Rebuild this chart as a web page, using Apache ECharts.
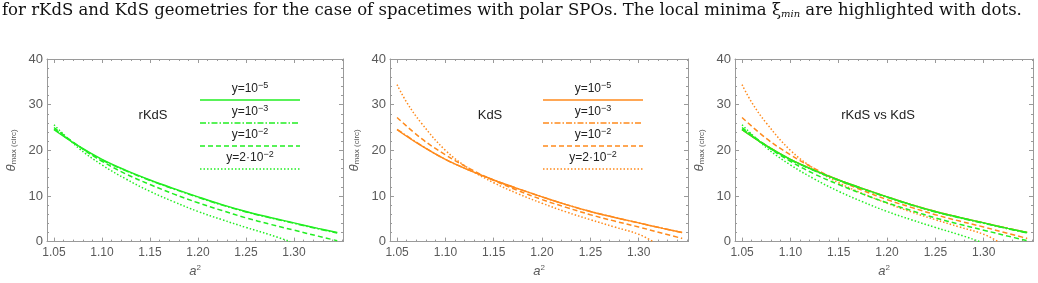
<!DOCTYPE html>
<html>
<head>
<meta charset="utf-8">
<script src="https://cdn.jsdelivr.net/npm/echarts@6/dist/echarts.min.js"></script>
<style>
  html, body { margin: 0; padding: 0; background: #fff; }
  #chart { width: 1038px; height: 283px; }
</style>
</head>
<body>
<div id="chart"></div>
<script>
// a^2 sample points and theta_max values
const aFull = [1.05, 1.075, 1.10, 1.125, 1.15, 1.175, 1.20, 1.225, 1.25, 1.275, 1.30, 1.325, 1.345];

const rkdsSolid   = [24.5, 21.0, 18.0, 15.6, 13.5, 11.6, 9.8, 8.1, 6.6, 5.3, 4.1, 2.9, 2.0];
const rkdsDashDot = [24.7, 21.0, 17.9, 15.5, 13.4, 11.5, 9.7, 8.0, 6.5, 5.2, 4.0, 2.8, 1.9];
const rkdsDashed  = [25.0, 21.0, 17.6, 14.8, 12.5, 10.4, 8.5, 6.8, 5.2, 3.8, 2.5, 1.2, 0.2];
const aRkdsDotted = [1.05, 1.075, 1.10, 1.125, 1.15, 1.175, 1.20, 1.225, 1.25, 1.275, 1.296];
const rkdsDotted  = [25.6, 20.6, 16.8, 13.7, 11.0, 8.7, 6.6, 4.8, 3.1, 1.5, 0.0];

const kdsSolid    = [24.5, 21.0, 18.0, 15.6, 13.5, 11.6, 9.8, 8.1, 6.6, 5.3, 4.1, 2.9, 2.0];
const kdsDashDot  = [24.6, 21.1, 18.0, 15.6, 13.5, 11.6, 9.8, 8.1, 6.6, 5.3, 4.1, 2.9, 2.0];
const kdsDashed   = [27.2, 22.6, 19.0, 16.0, 13.4, 11.2, 9.2, 7.5, 5.9, 4.5, 3.2, 1.8, 0.7];
const aKdsDotted  = [1.05, 1.06, 1.075, 1.10, 1.125, 1.15, 1.175, 1.20, 1.225, 1.25, 1.275, 1.30, 1.315];
const kdsDotted   = [34.4, 30.5, 26.0, 20.0, 15.9, 12.9, 10.5, 8.4, 6.5, 4.8, 3.2, 1.6, 0.0];

const xMajor = [1.05, 1.10, 1.15, 1.20, 1.25, 1.30];
const legendLabels = ['−5', '−3', '−2', '−2'];
const legendPrefix = ['y=10', 'y=10', 'y=10', 'y=2·10'];
const panelTitles = ['rKdS', 'KdS', 'rKdS vs KdS'];

const GREEN = '#22ee22';
const ORANGE = '#ff8a1c';
const AXIS = '#9a9a9a';
const LABEL = '#5a5a5a';
const DASHES = ['solid', [6, 2, 1.5, 2], [5, 3], [1.5, 2]];

const xMinor = [];
for (let i = 105; i <= 135; i++) xMinor.push(i / 100);

const grids = [
  { left: 47, right: 695, top: 59, bottom: 41 },
  { left: 390, right: 350, top: 59, bottom: 41 },
  { left: 735, right: 5, top: 59, bottom: 41 }
];

const xAxes = [];
const yAxes = [];
grids.forEach((g, gi) => {
  const base = { type: 'value', gridIndex: gi, min: 1.0427, max: 1.351, splitLine: { show: false } };
  // bottom, with labels
  xAxes.push(Object.assign({}, base, {
    position: 'bottom',
    axisLine: { lineStyle: { color: AXIS, width: 1 } },
    axisTick: { inside: true, length: 4, customValues: xMajor, lineStyle: { color: AXIS } },
    axisLabel: { customValues: xMajor, color: LABEL, fontSize: 12, margin: 5,
      fontFamily: 'Liberation Sans', formatter: v => v.toFixed(2) },
    name: '{a|a}{s|2}', nameLocation: 'middle', nameGap: 19,
    nameTextStyle: { rich: {
      a: { fontStyle: 'italic', fontSize: 13, color: LABEL, fontFamily: 'Liberation Sans' },
      s: { fontSize: 8, color: LABEL, padding: [0, 0, 8, 0], fontFamily: 'Liberation Sans' }
    } }
  }));
  // bottom minor ticks
  xAxes.push(Object.assign({}, base, {
    position: 'bottom', axisLine: { show: false },
    axisTick: { inside: true, length: 2, customValues: xMinor, lineStyle: { color: AXIS } },
    axisLabel: { show: false }
  }));
  // top frame
  xAxes.push(Object.assign({}, base, {
    position: 'top',
    axisLine: { lineStyle: { color: AXIS, width: 1 } },
    axisTick: { inside: true, length: 4, customValues: xMajor, lineStyle: { color: AXIS } },
    axisLabel: { show: false }
  }));
  xAxes.push(Object.assign({}, base, {
    position: 'top', axisLine: { show: false },
    axisTick: { inside: true, length: 2, customValues: xMinor, lineStyle: { color: AXIS } },
    axisLabel: { show: false }
  }));

  const ybase = { type: 'value', gridIndex: gi, min: 0, max: 40, interval: 10, splitLine: { show: false },
    minorTick: { show: true, splitNumber: 5, length: 2, lineStyle: { color: AXIS } },
    minorSplitLine: { show: false } };
  yAxes.push(Object.assign({}, ybase, {
    position: 'left',
    axisLine: { show: true, lineStyle: { color: AXIS, width: 1 } },
    axisTick: { show: true, inside: true, length: 4, lineStyle: { color: AXIS } },
    axisLabel: { color: LABEL, fontSize: 13, margin: 4, fontFamily: 'Liberation Sans' },
    name: '{t|θ}{s|max (circ)}', nameLocation: 'middle', nameGap: 29,
    nameTextStyle: { rich: {
      t: { fontStyle: 'italic', fontSize: 13, color: LABEL, fontFamily: 'Liberation Sans' },
      s: { fontSize: 8, color: LABEL, padding: [5, 0, 0, 0], fontFamily: 'Liberation Sans' }
    } }
  }));
  yAxes.push(Object.assign({}, ybase, {
    position: 'right',
    axisLine: { show: true, lineStyle: { color: AXIS, width: 1 } },
    axisTick: { show: true, inside: true, length: 4, lineStyle: { color: AXIS } },
    minorTick: { show: true, splitNumber: 5, length: 2, lineStyle: { color: AXIS } },
    axisLabel: { show: false }
  }));
});

function line(xs, ys, color, dash, gi) {
  return {
    type: 'line',
    xAxisIndex: gi * 4,
    yAxisIndex: gi * 2,
    data: xs.map((x, i) => [x, ys[i]]),
    showSymbol: false,
    smooth: 0.4,
    silent: true,
    lineStyle: { color: color, width: 1.5, type: dash }
  };
}

const rkds = [[aFull, rkdsSolid], [aFull, rkdsDashDot], [aFull, rkdsDashed], [aRkdsDotted, rkdsDotted]];
const kds = [[aFull, kdsSolid], [aFull, kdsDashDot], [aFull, kdsDashed], [aKdsDotted, kdsDotted]];

const series = [];
rkds.forEach((c, i) => series.push(line(c[0], c[1], GREEN, DASHES[i], 0)));
kds.forEach((c, i) => series.push(line(c[0], c[1], ORANGE, DASHES[i], 1)));
kds.forEach((c, i) => series.push(line(c[0], c[1], ORANGE, DASHES[i], 2)));
rkds.forEach((c, i) => series.push(line(c[0], c[1], GREEN, DASHES[i], 2)));

// legends and in-plot labels
const graphic = [];
const legendX = [200, 543];
const legendColor = [GREEN, ORANGE];
legendX.forEach((lx, p) => {
  for (let i = 0; i < 4; i++) {
    const ly = 100 + i * 23;
    graphic.push({
      type: 'line', silent: true,
      shape: { x1: lx, y1: ly, x2: lx + 100, y2: ly },
      style: { stroke: legendColor[p], lineWidth: 1.5, lineDash: DASHES[i] === 'solid' ? null : DASHES[i] }
    });
    graphic.push({
      type: 'text', silent: true, x: lx + 50, y: ly - 3,
      style: {
        text: legendPrefix[i] + '{s|' + legendLabels[i] + '}',
        align: 'center', verticalAlign: 'bottom',
        font: '12px "Liberation Sans"', fill: '#222',
        rich: { s: { fontSize: 9, fill: '#222', padding: [0, 0, 7, 0], fontFamily: 'Liberation Sans' } }
      }
    });
  }
});
const titleX = [153, 490, 878];
titleX.forEach((tx, i) => graphic.push({
  type: 'text', silent: true, x: tx, y: 115,
  style: { text: panelTitles[i], align: 'center', verticalAlign: 'middle',
    font: '13px "Liberation Sans"', fill: '#222' }
}));
graphic.push({
  type: 'text', silent: true, x: 2, y: 11,
  style: {
    text: 'for rKdS and KdS geometries for the case of spacetimes with polar SPOs. The local minima ξ{i|min} are highlighted with dots.',
    align: 'left', verticalAlign: 'middle',
    font: '16.5px "DejaVu Serif"', fill: '#111',
    rich: { i: { fontSize: 10, fontStyle: 'italic', fill: '#111', padding: [7, 0, 0, 0], fontFamily: 'DejaVu Serif' } }
  }
});

const chart = echarts.init(document.getElementById('chart'));
chart.setOption({
  animation: false,
  grid: grids,
  xAxis: xAxes,
  yAxis: yAxes,
  series: series,
  graphic: graphic
});
</script>
</body>
</html>
